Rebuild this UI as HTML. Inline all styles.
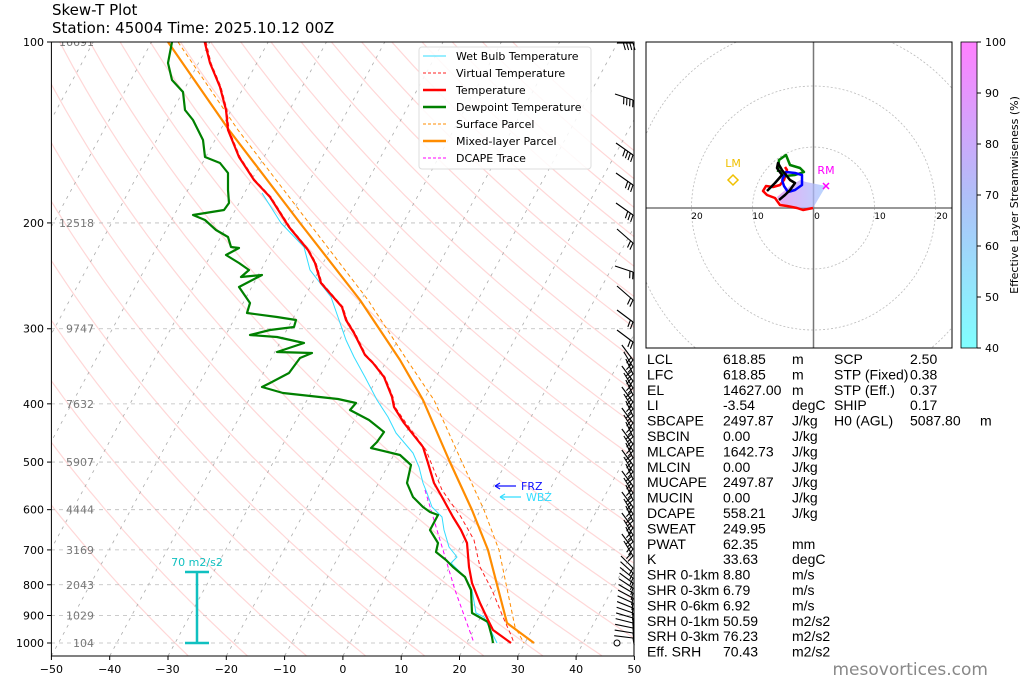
<!DOCTYPE html>
<html><head><meta charset="utf-8">
<style>
html,body{margin:0;padding:0;background:#fff;}
svg{display:block;font-family:"DejaVu Sans","Liberation Sans",sans-serif;}
</style></head>
<body>
<svg id="s" width="1024" height="683" viewBox="0 0 1024 683" xmlns="http://www.w3.org/2000/svg">
<defs>
<clipPath id="ax"><rect x="51.4" y="42" width="582.6" height="614"/></clipPath>
<clipPath id="hx"><rect x="646" y="42" width="306" height="306"/></clipPath>
<linearGradient id="cb" x1="0" y1="1" x2="0" y2="0">
<stop offset="0" stop-color="#80ffff"/><stop offset="0.5" stop-color="#b0bff8"/><stop offset="1" stop-color="#ff80ff"/>
</linearGradient>
<linearGradient id="fan" x1="0" y1="0" x2="1" y2="0">
<stop offset="0" stop-color="#e090f0"/><stop offset="1" stop-color="#a0c8ff"/>
</linearGradient>
</defs>
<text x="52" y="15" font-size="15">Skew-T Plot</text>
<text x="52" y="33" font-size="15">Station: 45004 Time: 2025.10.12 00Z</text>
<g id="bg" clip-path="url(#ax)"></g>
<g id="prof" clip-path="url(#ax)"></g>
<g id="barbs"></g>
<g id="axes"></g>
<g id="hodo"></g>
</svg>
<script>
const NS="http://www.w3.org/2000/svg";
function el(parent,tag,attrs,txt){const e=document.createElementNS(NS,tag);for(const k in attrs)e.setAttribute(k,attrs[k]);if(txt!==undefined)e.textContent=txt;parent.appendChild(e);return e;}
const Y=p=>42+601*Math.log10(p/100);
const X=(T,p)=>51.4+(T+50)*5.83+0.543*(656-Y(p));
const bg=document.getElementById('bg'),prof=document.getElementById('prof'),axes=document.getElementById('axes'),hodo=document.getElementById('hodo'),bb=document.getElementById('barbs');
for(let t0=-30;t0<=200;t0+=10){let pts=[];const th=t0+273.15;for(let p=1050;p>=95;p-=10){const T=th*Math.pow(p/1000,0.2857)-273.15;pts.push(X(T,p).toFixed(1)+","+Y(p).toFixed(1));}
el(bg,'polyline',{points:pts.join(' '),fill:'none',stroke:'#ff9a9a','stroke-opacity':0.4,'stroke-width':1.2});}
for(let T=-150;T<=50;T+=10){el(bg,'line',{x1:X(T,1050),y1:Y(1050),x2:X(T,95),y2:Y(95),stroke:'#aaa','stroke-dasharray':'3,5','stroke-width':0.8});}
const hl=[[100,'16691'],[200,'12518'],[300,'9747'],[400,'7632'],[500,'5907'],[600,'4444'],[700,'3169'],[800,'2043'],[900,'1029'],[1000,'104']];
hl.forEach(([p,h])=>{el(bg,'line',{x1:51,y1:Y(p),x2:634,y2:Y(p),stroke:'#bbb','stroke-dasharray':'4,4','stroke-width':0.8});
el(bg,'text',{x:94,y:Y(p)+4,'font-size':11,fill:'#777','text-anchor':'end'},h);});
function pl(pts,st,w,dash){const a={points:pts.map(p=>p.join(',')).join(' '),fill:'none',stroke:st,'stroke-width':w,'stroke-linejoin':'round'};if(dash)a['stroke-dasharray']=dash;el(prof,'polyline',a);}
const temp=[[204.6,41.7],[210,63],[220,87],[226,110],[228,130],[239,157],[254,180],[270,197],[289,227],[308,250],[315,263],[321,283],[342,307],[346,320],[354,333],[365,355],[373,363],[384,377],[392,397],[394,407],[404,423],[423,447],[428,463],[434,483],[442,497],[453,517],[461,530],[467,543],[469,567],[472,583],[480,603],[488,620],[493,630],[511,643]];
const vt=[[206,41.7],[211,63],[221,87],[227,110],[229,130],[240,157],[255,180],[271,197],[290,227],[309,250],[316,263],[322,283],[343,307],[347,320],[355,333],[366,355],[374,363],[385,377],[393,397],[395,407],[406,423],[426,450],[434,470],[442,490],[461,517],[474,540],[480,567],[492,590],[503,617],[511,635],[514,643]];
const wb=[[262,193],[281,223],[304,247],[310,270],[331,297],[339,320],[346,340],[354,357],[365,377],[377,400],[388,417],[396,433],[413,453],[419,467],[423,483],[427,493],[432,507],[442,517],[444,530],[449,547],[457,557],[451,563],[465,577],[472,590],[476,613],[484,617],[492,633],[497,643]];
const dp=[[172,42],[168,63],[172,80],[183,92],[185,110],[193,120],[203,140],[205,157],[220,163],[228,173],[228,190],[229,203],[224,210],[193,215],[205,220],[216,230],[228,237],[231,247],[239,248],[226,255],[239,263],[249,270],[241,277],[262,275],[239,287],[250,303],[247,313],[277,317],[296,320],[294,327],[270,330],[250,335],[277,337],[304,343],[277,352],[312,353],[300,358],[289,373],[270,383],[262,387],[283,393],[338,399],[356,403],[350,410],[369,420],[384,432],[377,442],[371,448],[400,455],[411,465],[407,483],[413,497],[423,507],[430,512],[438,515],[430,530],[438,543],[436,552],[446,560],[453,567],[465,577],[471,590],[472,613],[488,622],[492,637],[493,643]];
const ml=[[168,42],[229,130],[300,223],[360,300],[400,360],[423,400],[449,460],[472,510],[488,550],[507,623],[534,643]];
const sp=[[178,42],[238,130],[309,223],[368,300],[407,360],[434,400],[461,460],[484,510],[499,550],[515,627],[524,643]];
pl(ml,'#ff8c00',2.2);pl(sp,'#ff8c00',1,'4,3');
pl([[425,490],[440,540],[455,590],[474,643]],'#ff00ff',1,'4,3');
pl(wb,'#33ddff',1);pl(dp,'#008000',2.2);pl(vt,'#ff2020',1,'4,3');pl(temp,'#ff0000',2.2);
el(prof,'line',{x1:495,y1:486,x2:516,y2:486,stroke:'#1010ff','stroke-width':1.2});el(prof,'path',{d:'M495,486 l5,-3 M495,486 l5,3',stroke:'#1010ff',fill:'none','stroke-width':1.2});
el(prof,'text',{x:521,y:490,'font-size':11,fill:'#1010ff'},'FRZ');
el(prof,'line',{x1:500,y1:497,x2:521,y2:497,stroke:'#33ddff','stroke-width':1.2});el(prof,'path',{d:'M500,497 l5,-3 M500,497 l5,3',stroke:'#33ddff',fill:'none','stroke-width':1.2});
el(prof,'text',{x:526,y:501,'font-size':11,fill:'#33ddff'},'WBZ');
el(prof,'path',{d:'M185,572 h24 M197,572 V643 M185,643 h24',stroke:'#10c0c0','stroke-width':2.5,fill:'none'});
el(prof,'text',{x:197,y:566,'font-size':11,fill:'#10c0c0','text-anchor':'middle'},'70 m2/s2');
// barbs: base upper-left, tip at right with feathers at the tip
function barb(y,dx,dy,n){const tx=633,ty=y;const bx=tx+dx,by=ty+dy;el(bb,'line',{x1:bx,y1:by,x2:tx,y2:ty,stroke:'#000','stroke-width':1.1});
const L=Math.hypot(dx,dy),ux=-dx/L,uy=-dy/L; // unit from base to tip
for(let i=0;i<n;i++){const px=tx-ux*i*3.2,py=ty-uy*i*3.2;el(bb,'line',{x1:px,y1:py,x2:px-uy*7+ux*2,y2:py+ux*7+uy*2,stroke:'#000','stroke-width':1.1});}}
barb(43,-16,0,4);barb(100,-18,-6,4);barb(155,-17,-12,4);barb(185,-17,-12,3);barb(215,-17,-12,3);barb(243,-16,-14,2);barb(272,-18,-6,2);barb(300,-16,-14,2);barb(322,-16,-12,2);barb(342,-16,-12,2);
for(let y=360;y<=562;y+=7){barb(y,-12+((y/7)%3)*2,-15,2);}
for(let y=568;y<=640;y+=5){const f=(y-568)/72;barb(y,-12-7*f,-12+10*f,1);}
el(bb,'circle',{cx:617,cy:643,r:3,fill:'none',stroke:'#000','stroke-width':1});
el(axes,'rect',{x:51.4,y:42,width:582.6,height:614,fill:'none',stroke:'#000','stroke-width':1});
[1000,900,800,700,600,500,400,300,200,100].forEach(p=>{el(axes,'line',{x1:47,y1:Y(p),x2:51.4,y2:Y(p),stroke:'#000'});el(axes,'text',{x:44,y:Y(p)+4,'font-size':11,'text-anchor':'end'},p);});
for(let T=-50;T<=50;T+=10){const x=51.4+(T+50)*5.83;el(axes,'line',{x1:x,y1:656,x2:x,y2:660,stroke:'#000'});el(axes,'text',{x:x,y:673,'font-size':11,'text-anchor':'middle'},T<0?'\u2212'+(-T):T);}
el(axes,'rect',{x:419,y:47,width:172,height:122,fill:'#fff','fill-opacity':0.85,stroke:'#ddd',rx:3});
const lg=[['Wet Bulb Temperature','#33ddff',1,null],['Virtual Temperature','#ff2020',1,'3,2'],['Temperature','#ff0000',2.5,null],['Dewpoint Temperature','#008000',2.5,null],['Surface Parcel','#ff8c00',1,'3,2'],['Mixed-layer Parcel','#ff8c00',2.5,null],['DCAPE Trace','#ff00ff',1,'3,2']];
lg.forEach((l,i)=>{const y=56+i*17;const a={x1:423,y1:y,x2:446,y2:y,stroke:l[1],'stroke-width':l[2]};if(l[3])a['stroke-dasharray']=l[3];el(axes,'line',a);el(axes,'text',{x:456,y:y+4,'font-size':11},l[0]);});
const hg=el(hodo,'g',{'clip-path':'url(#hx)'});
[61,122,183].forEach(r=>el(hg,'circle',{cx:813.5,cy:208,r:r,fill:'none',stroke:'#bbb','stroke-dasharray':'2,2','stroke-width':0.8}));
el(hg,'line',{x1:646,y1:208,x2:952,y2:208,stroke:'#777','stroke-width':1.5});el(hg,'line',{x1:813.5,y1:42,x2:813.5,y2:348,stroke:'#777','stroke-width':1.5});
[['20',697],['10',758],['0',817],['10',880],['20',942]].forEach(a=>el(hg,'text',{x:a[1],y:219,'font-size':9,'text-anchor':'middle'},a[0]));
el(hg,'polygon',{points:'826,186 813,208 795,208 782,205 777,197 790,186 800,180 806,182',fill:'url(#fan)','fill-opacity':0.75});
function hp(pts,c){el(hg,'polyline',{points:pts.map(p=>p.join(',')).join(' '),fill:'none',stroke:c,'stroke-width':2.5,'stroke-linejoin':'round'});}
hp([[813,208],[803,210],[797,208],[787,206],[780,205],[775,198],[767,195],[763,191],[766,186],[773,187],[780,185],[784,180],[787,170],[785,167]],'#ff0000');
hp([[778,172],[779,160],[786,155],[790,165],[800,168],[804,172],[795,175],[785,176],[780,170]],'#008000');
hp([[782,180],[786,172],[795,173],[802,175],[802,185],[795,190],[788,192],[784,186],[782,180]],'#0000ff');
hp([[767,191],[775,183],[782,175],[777,168],[778,163],[782,170],[790,180],[795,183],[790,190],[785,195],[779,200]],'#000');
el(hg,'path',{d:'M733,175 l5,5 l-5,5 l-5,-5 z',fill:'none',stroke:'#f0c000','stroke-width':1.5});
el(hg,'text',{x:733,y:167,'font-size':11,fill:'#f0c000','text-anchor':'middle'},'LM');
el(hg,'path',{d:'M823,183 l6,6 M829,183 l-6,6',stroke:'#ff00ff','stroke-width':1.5});
el(hg,'text',{x:826,y:174,'font-size':11,fill:'#ff00ff','text-anchor':'middle'},'RM');
el(hodo,'rect',{x:646,y:42,width:306,height:306,fill:'none',stroke:'#000'});
el(hodo,'rect',{x:961,y:42,width:16,height:306,fill:'url(#cb)',stroke:'#000','stroke-width':0.8});
[100,90,80,70,60,50,40].forEach((v,i)=>{const y=42+i*51;el(hodo,'line',{x1:977,y1:y,x2:981,y2:y,stroke:'#000'});el(hodo,'text',{x:985,y:y+4,'font-size':11},v);});
el(hodo,'text',{x:1018,y:195,'font-size':11,'text-anchor':'middle',transform:'rotate(-90 1018 195)'},'Effective Layer Streamwiseness (%)');
const SF={'font-size':14,'font-family':'"Liberation Sans",sans-serif'};
function st(x,y,t){el(hodo,'text',Object.assign({x:x,y:y},SF),t);}
const rows=[['LCL','618.85','m'],['LFC','618.85','m'],['EL','14627.00','m'],['LI','-3.54','degC'],['SBCAPE','2497.87','J/kg'],['SBCIN','0.00','J/kg'],['MLCAPE','1642.73','J/kg'],['MLCIN','0.00','J/kg'],['MUCAPE','2497.87','J/kg'],['MUCIN','0.00','J/kg'],['DCAPE','558.21','J/kg'],['SWEAT','249.95',''],['PWAT','62.35','mm'],['K','33.63','degC'],['SHR 0-1km','8.80','m/s'],['SHR 0-3km','6.79','m/s'],['SHR 0-6km','6.92','m/s'],['SRH 0-1km','50.59','m2/s2'],['SRH 0-3km','76.23','m2/s2'],['Eff. SRH','70.43','m2/s2']];
rows.forEach((r,i)=>{const y=364+i*15.4;st(647,y,r[0]);st(723,y,r[1]);st(792,y,r[2]);});
const r2=[['SCP','2.50'],['STP (Fixed)','0.38'],['STP (Eff.)','0.37'],['SHIP','0.17'],['H0 (AGL)','5087.80']];
r2.forEach((r,i)=>{const y=364+i*15.4;st(834,y,r[0]);st(910,y,r[1]);});
st(980,425.6,'m');
el(hodo,'text',{x:988,y:675,'font-size':17,fill:'#888','text-anchor':'end'},'mesovortices.com');
</script>
</body></html>
